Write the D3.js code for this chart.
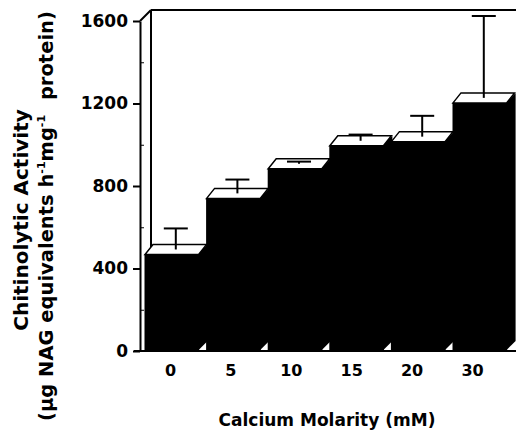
<!DOCTYPE html>
<html>
<head>
<meta charset="utf-8">
<script src="https://cdn.jsdelivr.net/npm/d3@7.9.0/dist/d3.min.js"></script>
<style>
  body { margin: 0; background: #fff; }
  svg { display: block; font-family: "DejaVu Sans", sans-serif; font-weight: bold; }
</style>
</head>
<body>
<svg id="chart" width="516" height="433"></svg>
<script>
// data
const categories = ["0", "5", "10", "15", "20", "30"];
const activity = [468, 740, 884, 995, 1015, 1203];
const errors = [102, 67, 10, 30, 101, 397];
const yTicks = [0, 400, 800, 1200, 1600];
const yMinorTicks = [200, 600, 1000, 1400];

const svg = d3.select("#chart");
const depthX = 8, depthY = -10;     // bar depth
const wallX = 11, wallY = -11;      // frame depth
const step = 61.6;

const y = d3.scaleLinear().domain([0, 1600]).range([351, 21]);
// bars sit side by side: next front face starts where the previous side face ends
const x = d3.scaleBand().domain(categories)
  .range([145, 145 + 5 * step + step - depthX])
  .paddingInner(depthX / step).paddingOuter(0);
const xLabel = d3.scalePoint().domain(categories).range([170, 472]);
const bw = x.bandwidth();

// --- back frame ---
const frame = svg.append("g").attr("stroke", "#000").attr("stroke-width", 2).attr("fill", "none");
frame.append("line")
  .attr("x1", 140 + wallX).attr("y1", y(1600) + wallY)
  .attr("x2", 140 + wallX).attr("y2", y(0) + wallY);
frame.append("line")
  .attr("x1", 140 + wallX).attr("y1", y(1600) + wallY)
  .attr("x2", 520).attr("y2", y(1600) + wallY);
frame.append("line")
  .attr("x1", 140).attr("y1", y(1600))
  .attr("x2", 140 + wallX).attr("y2", y(1600) + wallY);
frame.append("line")
  .attr("x1", 134).attr("y1", y(0))
  .attr("x2", 520).attr("y2", y(0));

// --- bars ---
const data = categories.map((c, i) => ({ c, v: activity[i], e: errors[i] }));
const bars = svg.append("g").selectAll("g").data(data).join("g");

// side face first, front face drawn a touch wider so no seam shows
bars.append("path")
  .attr("fill", "#000")
  .attr("d", d => {
    const x1 = x(d.c) + bw - 1;
    const x2 = x(d.c) + bw + depthX + 1;
    return `M${x1},${y(d.v)}L${x2},${y(d.v) + depthY}L${x2},${y(0) + depthY}L${x1},${y(0)}Z`;
  });

bars.append("rect")
  .attr("x", d => x(d.c) - 0.5)
  .attr("y", d => y(d.v))
  .attr("width", bw + 1)
  .attr("height", d => y(0) - y(d.v))
  .attr("fill", "#000");

bars.append("path")
  .attr("fill", "#fff")
  .attr("stroke", "#000")
  .attr("stroke-width", 1.5)
  .attr("d", d => {
    const x0 = x(d.c), yt = y(d.v);
    return `M${x0},${yt}L${x0 + bw},${yt}L${x0 + bw + depthX},${yt + depthY}L${x0 + depthX},${yt + depthY}Z`;
  });

// error bars (on the middle of the top face)
const err = bars.append("g").attr("stroke", "#000").attr("stroke-width", 2);
err.append("line")
  .attr("x1", d => x(d.c) + bw / 2 + depthX / 2)
  .attr("x2", d => x(d.c) + bw / 2 + depthX / 2)
  .attr("y1", d => y(d.v) + depthY / 2)
  .attr("y2", d => y(d.v + d.e) + depthY / 2);
err.append("line")
  .attr("x1", d => x(d.c) + bw / 2 + depthX / 2 - 12)
  .attr("x2", d => x(d.c) + bw / 2 + depthX / 2 + 12)
  .attr("y1", d => y(d.v + d.e) + depthY / 2)
  .attr("y2", d => y(d.v + d.e) + depthY / 2);

// --- y axis ---
const yAxis = svg.append("g")
  .attr("transform", "translate(140,0)")
  .call(d3.axisLeft(y).tickValues(yTicks).tickSize(7).tickSizeOuter(0).tickPadding(5).tickFormat(d3.format("d")));
yAxis.select(".domain").attr("stroke-width", 2);
yAxis.selectAll(".tick line").attr("stroke-width", 2);
yAxis.selectAll("text").attr("font-size", 17).attr("font-family", "DejaVu Sans").attr("font-weight", "bold").attr("fill", "#000");

svg.append("g")
  .attr("transform", "translate(140,0)")
  .call(d3.axisRight(y).tickValues(yMinorTicks).tickSize(4).tickFormat(""))
  .call(g => g.select(".domain").remove());

// --- x labels ---
const xAxis = svg.append("g")
  .attr("transform", "translate(0,365)")
  .call(d3.axisBottom(xLabel).tickSize(0).tickPadding(0));
xAxis.select(".domain").remove();
xAxis.selectAll("text").attr("font-size", 16).attr("font-family", "DejaVu Sans").attr("font-weight", "bold").attr("fill", "#000");

svg.append("text")
  .attr("x", 327).attr("y", 426)
  .attr("text-anchor", "middle")
  .attr("font-size", 17)
  .text("Calcium Molarity (mM)");

// --- y title ---
svg.append("text")
  .attr("transform", "translate(28,220) rotate(-90)")
  .attr("text-anchor", "middle")
  .attr("font-size", 20)
  .text("Chitinolytic Activity");

const t2 = svg.append("text")
  .attr("transform", "translate(53,216) rotate(-90)")
  .attr("text-anchor", "middle")
  .attr("font-size", 19.5);
t2.append("tspan").text("(\u03bcg NAG equivalents h");
t2.append("tspan").attr("font-size", 11).attr("dy", -8).text("-1");
t2.append("tspan").attr("dy", 8).text("mg");
t2.append("tspan").attr("font-size", 11).attr("dy", -8).text("-1");
t2.append("tspan").attr("dy", 8).attr("dx", 8).text(" protein)");
</script>
</body>
</html>
